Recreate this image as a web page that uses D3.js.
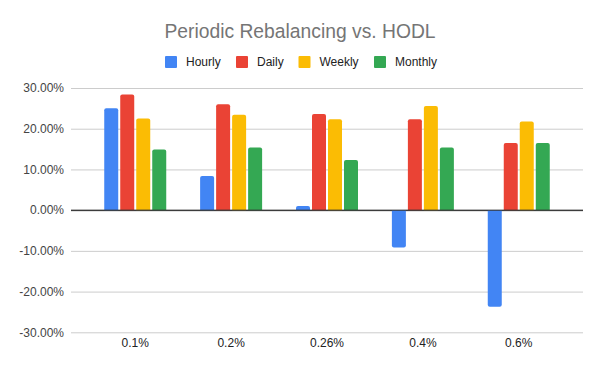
<html>
<head>
  <title>Periodic Rebalancing vs. HODL</title>
  <script src='https://d3js.org/d3.v7.min.js'></script>
  <style>
    body { margin: 0; background: #fff; }
    text { font-family: Arial, 'Liberation Sans', sans-serif; }
  </style>
</head>
<body>
  <script>

    // data
    var categories = ['0.1%', '0.2%', '0.26%', '0.4%', '0.6%'];
    var seriesNames = ['Hourly', 'Daily', 'Weekly', 'Monthly'];
    var hourly  = [25.0, 8.4, 1.0, -9.2, -23.7];
    var daily   = [28.4, 26.0, 23.6, 22.3, 16.5];
    var weekly  = [22.5, 23.4, 22.3, 25.6, 21.8];
    var monthly = [14.9, 15.4, 12.3, 15.4, 16.5];
    var yTicks = [-30, -20, -10, 0, 10, 20, 30];
    var colors = ['#4285f4', '#ea4335', '#fbbc04', '#34a853'];

    var seriesValues = [hourly, daily, weekly, monthly];

    var width = 600,
        height = 371;

    var svg = d3.select('body')
      .append('svg')
      .attr('width', width)
      .attr('height', height);

    var left = 71, right = 583;

    var y = d3.scaleLinear()
      .domain([-30, 30])
      .range([332.3, 88]);

    var x0 = d3.scaleBand()
      .domain(categories)
      .range([left, right])
      .paddingInner(0)
      .paddingOuter(0.17);

    var bw = x0.bandwidth();
    var x1 = d3.scaleBand()
      .domain(seriesNames)
      .range([bw / 2 - 31, bw / 2 + 31])
      .paddingInner(0.125)
      .paddingOuter(0);

    var color = d3.scaleOrdinal()
      .domain(seriesNames)
      .range(colors);

    // title
    svg.append('text')
      .attr('x', 300)
      .attr('y', 37.5)
      .attr('text-anchor', 'middle')
      .attr('fill', '#757575')
      .style('font-size', '19.3px')
      .text('Periodic Rebalancing vs. HODL');

    // legend
    var legendX = [165, 236, 298.5, 374];
    var legend = svg.append('g');
    seriesNames.forEach(function(name, i) {
      legend.append('rect')
        .attr('x', legendX[i])
        .attr('y', 56)
        .attr('width', 12)
        .attr('height', 12)
        .attr('rx', 1)
        .attr('fill', color(name));
      legend.append('text')
        .attr('x', legendX[i] + 21)
        .attr('y', 66.2)
        .attr('fill', '#222')
        .style('font-size', '12px')
        .text(name);
    });

    // y axis gridlines + labels
    var yAxis = d3.axisLeft(y)
      .tickValues(yTicks)
      .tickSize(-(right - left))
      .tickPadding(7)
      .tickFormat(function(d) { return d.toFixed(2) + '%'; });

    var ga = svg.append('g')
      .attr('transform', 'translate(' + left + ',0)')
      .call(yAxis);
    ga.select('.domain').remove();
    ga.selectAll('.tick line')
      .attr('stroke', function(d) { return d === 0 ? '#333' : '#ccc'; })
      .attr('stroke-width', 1);
    ga.selectAll('.tick text')
      .attr('fill', '#444')
      .style('font-size', '12px')
      .style('font-family', 'Arial, Liberation Sans, sans-serif');

    // x labels
    var xAxis = d3.axisBottom(x0).tickSize(0).tickPadding(0);
    var gx = svg.append('g')
      .attr('transform', 'translate(0,' + 338 + ')')
      .call(xAxis);
    gx.select('.domain').remove();
    gx.selectAll('.tick text')
      .attr('fill', '#222')
      .style('font-size', '12px')
      .style('font-family', 'Arial, Liberation Sans, sans-serif');

    // bars with rounded outer end
    function barPath(xp, w, v) {
      var y0 = y(0), y1 = y(v);
      var r = Math.min(2, Math.abs(y1 - y0) / 2);
      if (v >= 0) {
        return 'M' + xp + ',' + y0 +
          'V' + (y1 + r) +
          'Q' + xp + ',' + y1 + ' ' + (xp + r) + ',' + y1 +
          'H' + (xp + w - r) +
          'Q' + (xp + w) + ',' + y1 + ' ' + (xp + w) + ',' + (y1 + r) +
          'V' + y0 + 'Z';
      }
      return 'M' + xp + ',' + y0 +
        'V' + (y1 - r) +
        'Q' + xp + ',' + y1 + ' ' + (xp + r) + ',' + y1 +
        'H' + (xp + w - r) +
        'Q' + (xp + w) + ',' + y1 + ' ' + (xp + w) + ',' + (y1 - r) +
        'V' + y0 + 'Z';
    }

    var groups = svg.append('g')
      .selectAll('g')
      .data(categories)
      .enter()
      .append('g')
      .attr('transform', function(d) { return 'translate(' + x0(d) + ',0)'; });

    groups.selectAll('path')
      .data(function(d, i) {
        return seriesNames.map(function(s, j) {
          return { key: s, value: seriesValues[j][i] };
        });
      })
      .enter()
      .append('path')
      .attr('fill', function(d) { return color(d.key); })
      .attr('d', function(d) { return barPath(x1(d.key), x1.bandwidth(), d.value); });

    // zero line drawn over the bars
    svg.append('line')
      .attr('x1', left).attr('x2', right)
      .attr('y1', y(0)).attr('y2', y(0))
      .attr('stroke', '#333');

  </script>
</body>
</html>
